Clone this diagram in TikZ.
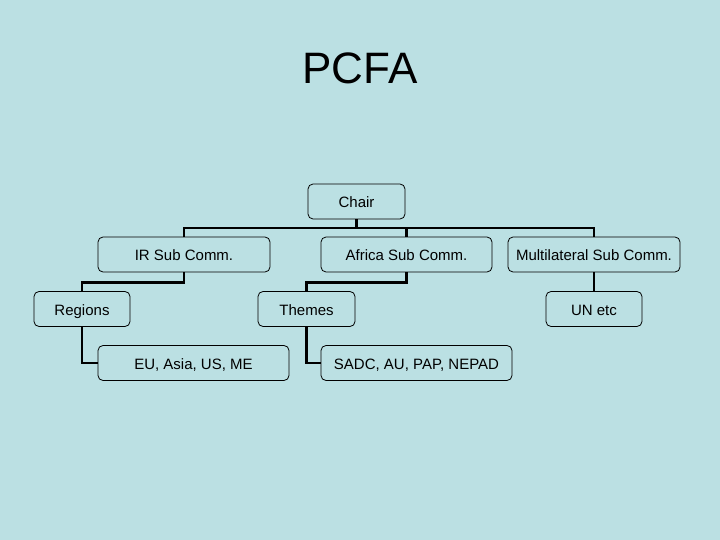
\documentclass[tikz,border=0pt]{standalone}
\usepackage{fontspec}
\setmainfont{Liberation Sans}
\definecolor{slidebg}{RGB}{187,224,227}

\begin{document}
\begin{tikzpicture}[
        x=1pt, y=-1pt,
        box/.style={draw, line width=0.8pt, rounded corners=5pt, fill=slidebg,
            minimum height=35pt, text height=13pt, text depth=1pt,
            font=\fontsize{15}{17}\selectfont},
        link/.style={line width=2.8pt}
    ]

        % Sfondo
        \fill[slidebg] (0,0) rectangle (720,540);
        \useasboundingbox (0,0) rectangle (720,540);

        % Titolo
        \node (title) at (360,68) {\fontsize{44}{50}\selectfont PCFA};

        % Vertice
        \node[box, minimum width=97pt] (chair) at (356.5,201.5) {Chair};

        % Sottocomitati
        \node[box, minimum width=172pt] (ir) at (184,254.5) {IR Sub Comm.};
        \node[box, minimum width=171pt] (africa) at (406.5,254.5) {Africa Sub Comm.};
        \node[box, minimum width=172pt] (multi) at (594,254.5) {Multilateral Sub Comm.};

        % Terzo livello
        \node[box, minimum width=96pt] (regions) at (82,309) {Regions};
        \node[box, minimum width=97pt] (themes) at (306.5,309) {Themes};
        \node[box, minimum width=96pt] (un) at (594,309) {UN etc};

        % Quarto livello
        \node[box, minimum width=191pt] (eu) at (193.5,363) {EU, Asia, US, ME};
        \node[box, minimum width=191pt] (sadc) at (416.5,363) {SADC, AU, PAP, NEPAD};

        % Collegamenti
        \coordinate (bus) at (356.5,228);
        \draw[link] (chair.south) -- (bus) -| (ir.north);
        \draw[link] (bus) -| (africa.north);
        \draw[link] (bus) -| (multi.north);

        \draw[link] (ir.south) -- ++(0,10) -| (regions.north);
        \draw[link] (africa.south) -- ++(0,10) -| (themes.north);
        \draw[link] (multi.south) -- (un.north);

        \draw[link] (regions.south) |- (eu.west);
        \draw[link] (themes.south) |- (sadc.west);

    \end{tikzpicture}
\end{document}
